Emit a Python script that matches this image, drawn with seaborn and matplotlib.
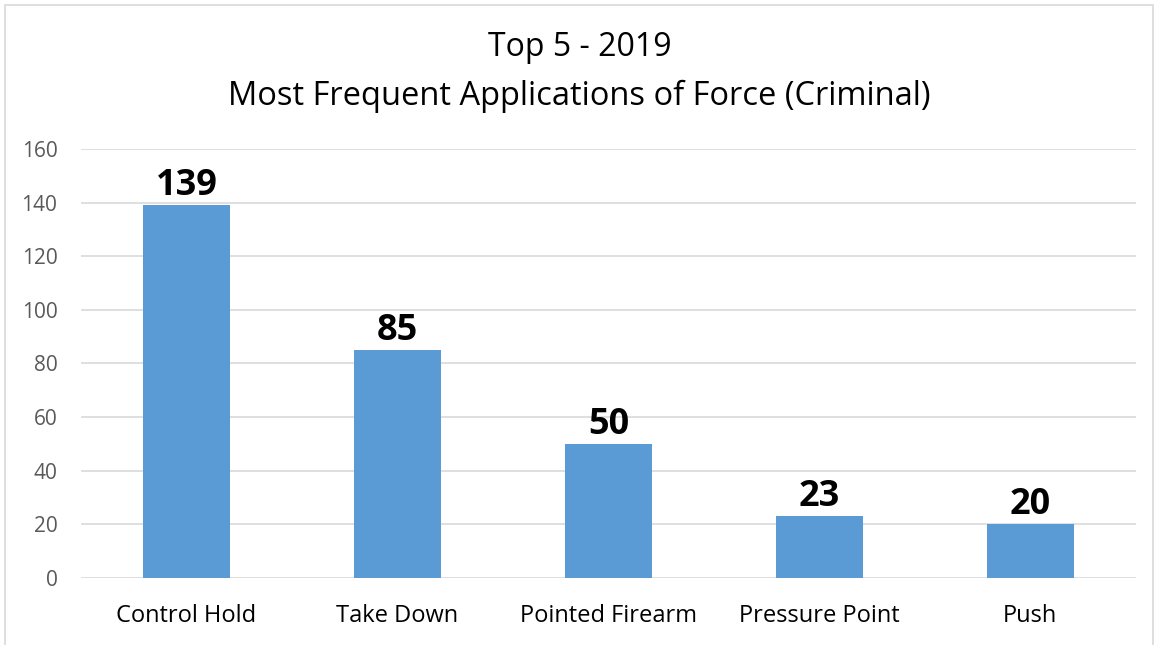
"""
Top 5 applications of force (criminal), 2019 — bar chart recreation.
"""

import matplotlib.pyplot as plt
import pandas as pd
import seaborn as sns
from matplotlib.patches import Rectangle

categories = ["Control Hold", "Take Down", "Pointed Firearm", "Pressure Point", "Push"]
counts = [139, 85, 50, 23, 20]
y_ticks = [0, 20, 40, 60, 80, 100, 120, 140, 160]

BAR_COLOR = "#5B9BD5"
GRID_COLOR = "#D9D9D9"
TICK_COLOR = "#595959"

sns.set_style("white")
plt.rcParams["font.family"] = ["Open Sans", "DejaVu Sans"]

df = pd.DataFrame({"category": categories, "count": counts})

fig = plt.figure(figsize=(11.59, 6.45), dpi=100)
ax = fig.add_axes([0.0699, 0.1039, 0.9101, 0.6651])

sns.barplot(data=df, x="category", y="count", color=BAR_COLOR,
            width=0.41, saturation=1, linewidth=0, ax=ax, zorder=3)

ax.set_ylim(0, 160)
ax.set_yticks(y_ticks)
ax.set_xlim(-0.5, len(categories) - 0.5)
ax.yaxis.grid(True, color=GRID_COLOR, linewidth=1.2, zorder=0)
ax.set_axisbelow(True)
for side in ["top", "right", "left", "bottom"]:
    ax.spines[side].set_visible(False)
ax.set_xlabel("")
ax.set_ylabel("")
ax.tick_params(axis="y", length=0, labelsize=15, labelcolor=TICK_COLOR, pad=17)
ax.tick_params(axis="x", length=0, labelsize=17, labelcolor="black", pad=19)

for i, v in enumerate(counts):
    ax.annotate(str(v), (i, v), xytext=(0, 1), textcoords="offset points",
                ha="center", va="bottom", fontsize=26, fontweight="bold",
                color="black")

fig.text(0.5, 0.927, "Top 5 - 2019", ha="center", va="center",
         fontsize=23, color="black")
fig.text(0.5, 0.850, "Most Frequent Applications of Force (Criminal)",
         ha="center", va="center", fontsize=23.5, color="black")

# outer chart frame
fig.patches.append(Rectangle((5 / 1159, -0.1), 1148 / 1159, 1 - 5 / 645 + 0.1,
                             transform=fig.transFigure, fill=False,
                             edgecolor=GRID_COLOR, linewidth=1.2))

fig.savefig("out.png", dpi=100)
plt.close(fig)
